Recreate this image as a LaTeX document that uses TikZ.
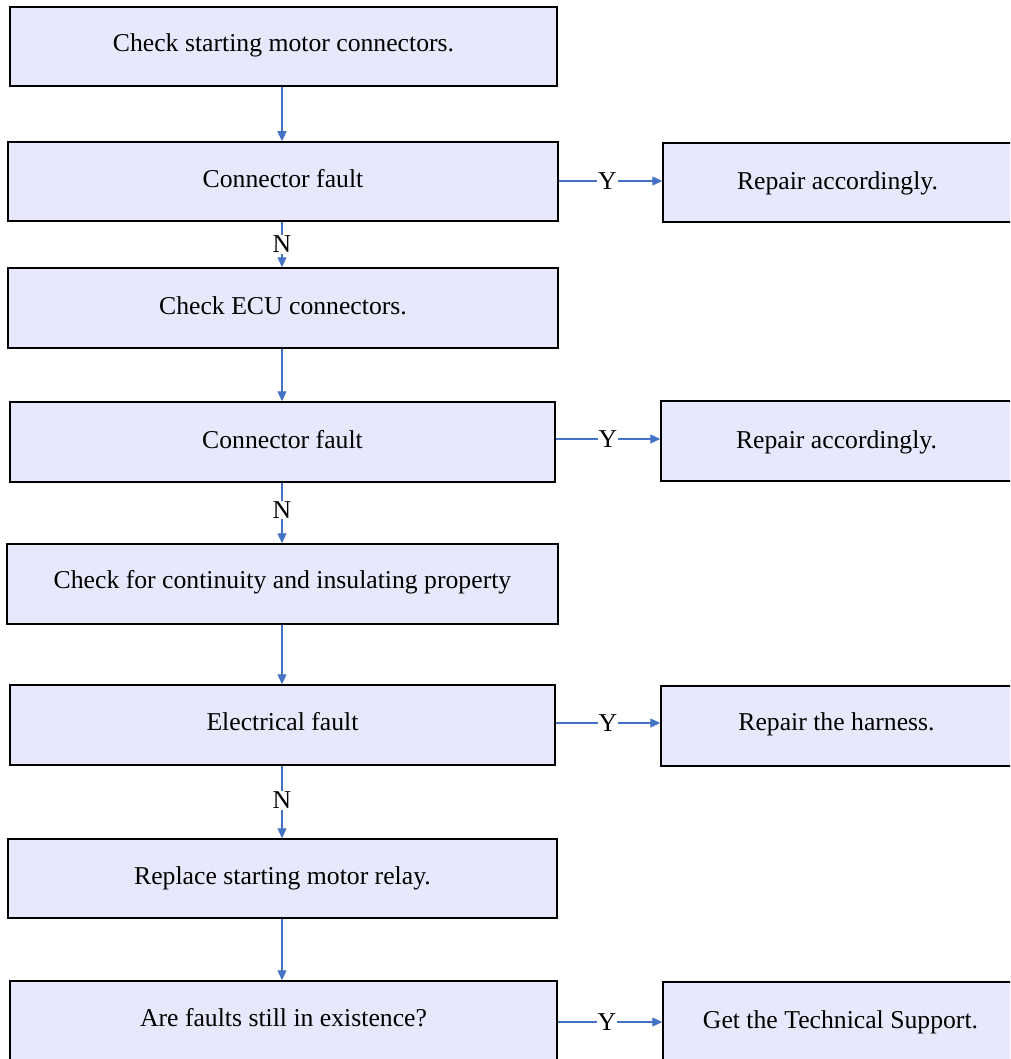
\documentclass[tikz,border=0pt]{standalone}
\usepackage{fontspec}
\setmainfont{Liberation Serif}
\usetikzlibrary{arrows.meta}
\definecolor{boxfill}{RGB}{232,232,252}
\definecolor{flow}{RGB}{68,114,196}
\begin{document}
\begin{tikzpicture}[x=1pt,y=-1pt,
  stepbox/.style={draw=black,line width=1.5pt,fill=boxfill,inner sep=0pt,
    minimum height=79pt,font=\fontsize{25.7}{30}\selectfont},
  boxtext/.style={font=\fontsize{25.7}{30}\selectfont,inner sep=0pt},
  flowline/.style={draw=flow,line width=1.2pt,-{Triangle[length=10pt,width=9pt]}},
  yn/.style={fill=white,inner sep=1pt,text=black,font=\fontsize{25.7}{30}\selectfont}]
\useasboundingbox (0,0) rectangle (1010,1059);
\begin{scope}
\clip (0,0) rectangle (1010,1059);
% main column
\node[stepbox,minimum width=547pt] (b1) at (283.5,46.5) {};
\node[stepbox,minimum width=550pt] (b2) at (283,181.5) {};
\node[stepbox,minimum width=550pt,minimum height=80pt] (b3) at (283,308) {};
\node[stepbox,minimum width=545pt,minimum height=80pt] (b4) at (282.5,442) {};
\node[stepbox,minimum width=551pt,minimum height=80pt] (b5) at (282.5,584) {};
\node[stepbox,minimum width=545pt,minimum height=80pt] (b6) at (282.5,725) {};
\node[stepbox,minimum width=549pt] (b7) at (282.5,878.5) {};
\node[stepbox,minimum width=547pt] (b8) at (283.5,1020.5) {};
% side column
\node[stepbox,minimum width=349pt] (r2) at (837.5,182.5) {};
\node[stepbox,minimum width=351pt,minimum height=80pt] (r4) at (836.5,441) {};
\node[stepbox,minimum width=351pt,minimum height=80pt] (r6) at (836.5,726) {};
\node[stepbox,minimum width=349pt] (r8) at (837.5,1021.5) {};
% box texts, set a little above the box centres
\node[boxtext] (t1) at ([yshift=1pt]b1.center) {Check starting motor connectors.};
\node[boxtext] (t2) at ([yshift=3pt]b2.center) {Connector fault};
\node[boxtext] (t3) at ([yshift=2.5pt]b3.center) {Check ECU connectors.};
\node[boxtext] (t4) at ([yshift=2.5pt]b4.center) {Connector fault};
\node[boxtext] (t5) at ([yshift=1.5pt]b5.center) {Check for continuity and insulating property};
\node[boxtext] (t6) at ([yshift=3.5pt]b6.center) {Electrical fault};
\node[boxtext] (t7) at ([yshift=0.5pt]b7.center) {Replace starting motor relay.};
\node[boxtext] (t8) at ([yshift=3pt]b8.center) {Are faults still in existence?};
\node[boxtext] (s2) at ([yshift=-1pt]r2.center) {Repair accordingly.};
\node[boxtext] (s4) at ([yshift=-1pt]r4.center) {Repair accordingly.};
\node[boxtext] (s6) at ([yshift=2pt]r6.center) {Repair the harness.};
\node[boxtext] (s8) at ([xshift=3pt,yshift=-0.5pt]r8.center) {Get the Technical Support.};
\end{scope}
% vertical flow
\draw[flowline] (b1.south -| 282,0) -- (b2.north -| 282,0);
\draw[flowline] (b2.south -| 282,0) -- node[yn,pos=0.5] {N} (b3.north -| 282,0);
\draw[flowline] (b3.south -| 282,0) -- (b4.north -| 282,0);
\draw[flowline] (b4.south -| 282,0) -- node[yn,pos=0.45] {N} (b5.north -| 282,0);
\draw[flowline] (b5.south -| 282,0) -- (b6.north -| 282,0);
\draw[flowline] (b6.south -| 282,0) -- node[yn,pos=0.48] {N} (b7.north -| 282,0);
\draw[flowline] (b7.south -| 282,0) -- (b8.north -| 282,0);
% yes branches
\draw[flowline] (b2.east |- 0,181) -- node[yn,pos=0.47] {Y} (r2.west |- 0,181);
\draw[flowline] (b4.east |- 0,439) -- node[yn,pos=0.5] {Y} (r4.west |- 0,439);
\draw[flowline] (b6.east |- 0,723) -- node[yn,pos=0.5] {Y} (r6.west |- 0,723);
\draw[flowline] (b8.east |- 0,1022) -- node[yn,pos=0.47] {Y} (r8.west |- 0,1022);
\end{tikzpicture}
\end{document}
